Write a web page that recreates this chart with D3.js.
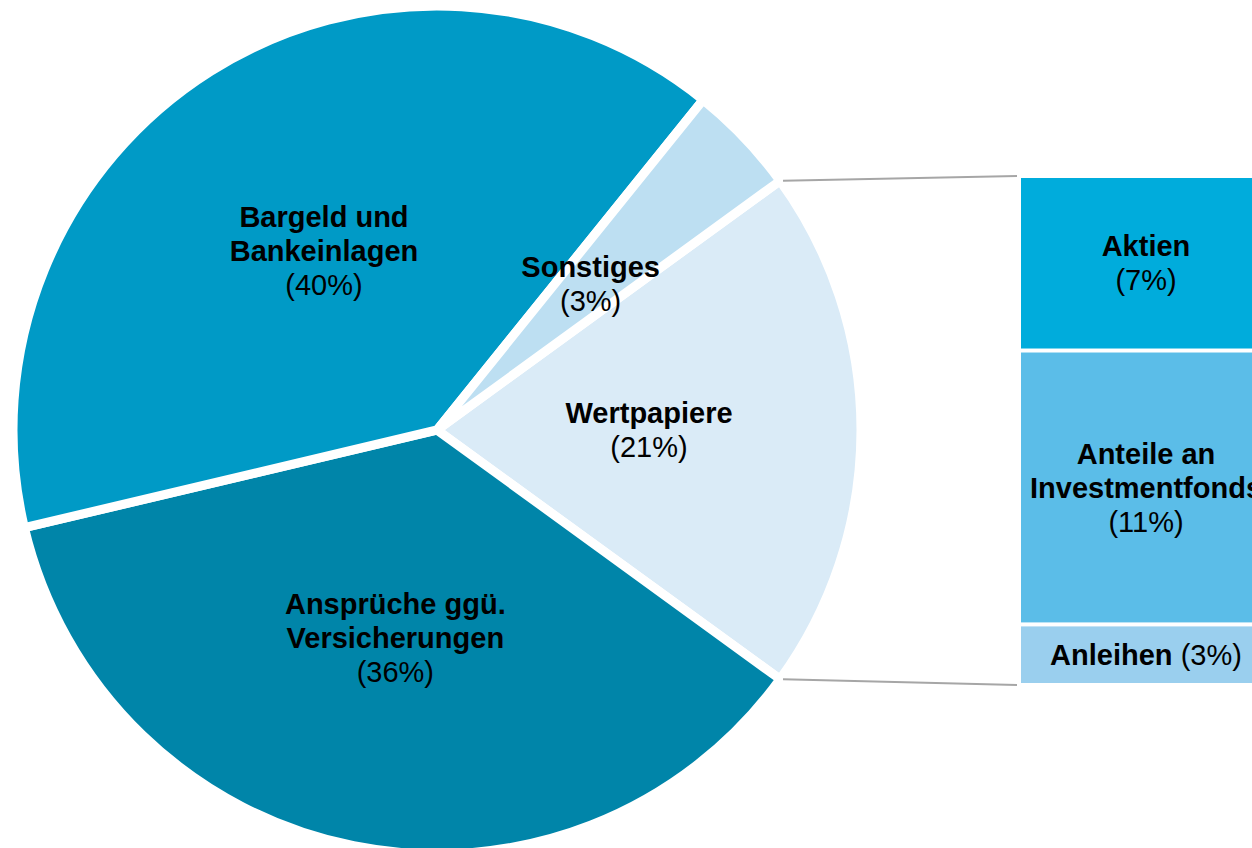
<!DOCTYPE html>
<html>
<head>
<meta charset="utf-8">
<script src="https://cdn.jsdelivr.net/npm/d3@7"></script>
<style>
  body { margin: 0; background: #fff; }
  svg { display: block; font-family: "Liberation Sans", Arial, sans-serif; }
</style>
</head>
<body>
<div id="canvas"></div>
<script>
// main pie (clockwise, starting at Wertpapiere)
var mainNames = [['Wertpapiere'], ['Ansprüche ggü.', 'Versicherungen'], ['Bargeld und', 'Bankeinlagen'], ['Sonstiges']];
var mainShares = [20.0, 36.3, 39.5, 4.2];
var mainPct = ['(21%)', '(36%)', '(40%)', '(3%)'];
var mainColors = ['#daebf7', '#0085a9', '#009ac6', '#bddff2'];

// bar of pie (breakdown of Wertpapiere)
var subNames = [['Aktien'], ['Anteile an', 'Investmentfonds'], ['Anleihen']];
var subShares = [7.2, 11.3, 2.5];
var subPct = ['(7%)', '(11%)', '(3%)'];
var subColors = ['#00acdc', '#5bbde8', '#9acfee'];

var W = 1252, H = 848,
    cx = 437, cy = 430, R = 424,
    fs = 29, lh = 34;

var svg = d3.select('#canvas')
    .append('svg')
    .attr('width', W)
    .attr('height', H);

var total = d3.sum(mainShares);
var wpAngle = mainShares[0] / total * 2 * Math.PI;
var start = Math.PI / 2 - wpAngle / 2;

var pie = d3.pie().sort(null).value(function(d){ return d; })
    .startAngle(start).endAngle(start + 2 * Math.PI);
var arc = d3.arc().innerRadius(0).outerRadius(R);

var slices = pie(mainShares);

var pieG = svg.append('g').attr('transform', 'translate(' + cx + ',' + cy + ')');

pieG.selectAll('.slice')
    .data(slices)
    .enter()
    .append('path').attr('class', 'slice')
    .attr('d', arc)
    .style('fill', function(d, i){ return mainColors[i]; })
    .style('stroke', '#fff')
    .style('stroke-width', 9)
    .style('stroke-linejoin', 'miter');

// labels at centroid
var labels = pieG.selectAll('.lbl')
    .data(slices)
    .enter()
    .append('text').attr('class', 'lbl')
    .attr('text-anchor', 'middle')
    .style('font-size', fs + 'px')
    .attr('transform', function(d){ return 'translate(' + arc.centroid(d) + ')'; });

labels.each(function(d, i){
    var lines = mainNames[i].concat([mainPct[i]]);
    var y0 = -(lines.length - 1) * lh / 2 + fs * 0.35;
    var t = d3.select(this);
    lines.forEach(function(l, j){
        t.append('tspan')
            .attr('x', 0)
            .attr('y', y0 + j * lh)
            .style('font-weight', j < lines.length - 1 ? 'bold' : 'normal')
            .text(l);
    });
});

// stacked bar
var barX = 1021, barW = 256;
var subTotal = d3.sum(subShares);
var y = d3.scaleLinear().domain([0, subTotal]).range([176, 685]);
var cum = 0;
var segs = subShares.map(function(v, i){
    var s = {i: i, y0: cum, y1: cum + v};
    cum += v;
    return s;
});

var bars = svg.selectAll('.bar')
    .data(segs)
    .enter()
    .append('g').attr('class', 'bar');

bars.append('rect')
    .attr('x', barX)
    .attr('y', function(d){ return y(d.y0) + 2; })
    .attr('width', barW)
    .attr('height', function(d){ return y(d.y1) - y(d.y0) - 4; })
    .style('fill', function(d){ return subColors[d.i]; });

bars.each(function(d){
    var mid = (y(d.y0) + y(d.y1)) / 2;
    var t = d3.select(this).append('text')
        .attr('text-anchor', 'middle')
        .style('font-size', fs + 'px');
    var bx = barX + 125;
    if (d.i === 2) {
        t.attr('x', bx).attr('y', mid + fs * 0.35);
        t.append('tspan').style('font-weight', 'bold').text(subNames[d.i][0]);
        t.append('tspan').text(' ' + subPct[d.i]);
        return;
    }
    var lines = subNames[d.i].concat([subPct[d.i]]);
    var y0 = mid - (lines.length - 1) * lh / 2 + fs * 0.35;
    lines.forEach(function(l, j){
        t.append('tspan')
            .attr('x', bx)
            .attr('y', y0 + j * lh)
            .style('font-weight', j < lines.length - 1 ? 'bold' : 'normal')
            .text(l);
    });
});

// connector lines from Wertpapiere slice edges to the bar
var wp = slices[0];
var ends = [
    {a: wp.startAngle, yb: y(0)},
    {a: wp.endAngle, yb: y(subTotal)}
];
svg.selectAll('.conn')
    .data(ends)
    .enter()
    .append('line').attr('class', 'conn')
    .attr('x1', function(d){ return cx + R * Math.sin(d.a) + 3; })
    .attr('y1', function(d){ return cy - R * Math.cos(d.a); })
    .attr('x2', barX - 4)
    .attr('y2', function(d){ return d.yb; })
    .style('stroke', '#a6a6a6')
    .style('stroke-width', 2);
</script>
</body>
</html>
